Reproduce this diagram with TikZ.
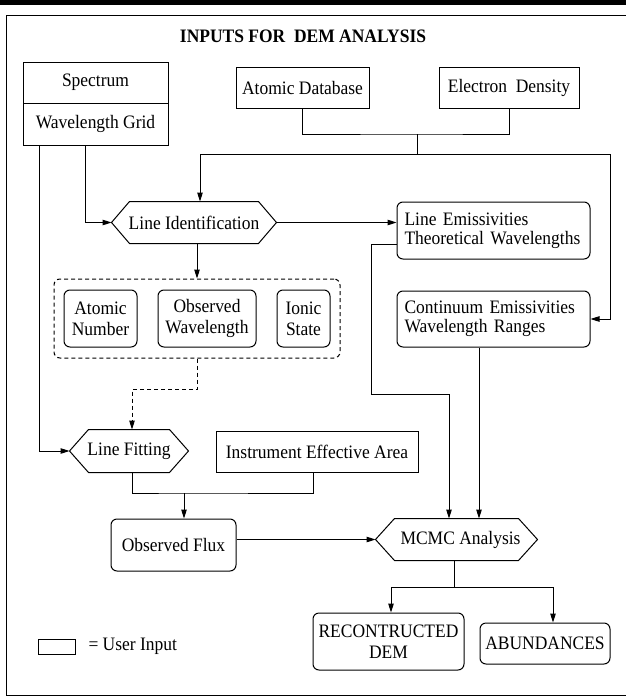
\documentclass[tikz,border=0pt]{standalone}
\usepackage{fontspec}
\setmainfont{Liberation Serif}[FakeStretch=0.92]
\usetikzlibrary{arrows.meta}
\newcommand\hexa[2]{\draw ([xshift=#2]#1.north west) -- ([xshift=-#2]#1.north east) -- (#1.east) -- ([xshift=-#2]#1.south east) -- ([xshift=#2]#1.south west) -- (#1.west) -- cycle;}
\begin{document}
\begin{tikzpicture}[x=1pt,y=-1pt,line width=1pt,
  every node/.style={font=\fontsize{19}{21}\selectfont, inner sep=0pt},
  sz/.style n args={2}{minimum width=#1pt,minimum height=#2pt},
  ubox/.style={draw},
  rbox/.style={draw, rounded corners=6pt},
  lbox/.style={draw, rounded corners=6pt, text width=178pt, align=left, font=\fontsize{19}{19}\selectfont},
  arr/.style={-{Triangle[length=9pt,width=5.5pt]}},
  dasharr/.style={arr, dash pattern=on 4pt off 3pt},
  grpbox/.style={draw, rounded corners=6pt, dash pattern=on 4pt off 3pt}
]
\useasboundingbox (0,0) rectangle (626,696);
% top rule and frame
\fill (0,0) rectangle (626,4.5);
\draw (632,15) -- (6,15) -- (6,695) -- (632,695);

\node[font=\bfseries\fontsize{19}{21}\selectfont] (title) at (303,36) {INPUTS FOR\ \ DEM ANALYSIS};

% inputs
\node[ubox, sz={145}{41}] (spec) at (95.5,82.5) {Spectrum};
\node[ubox, sz={145}{42}] (wgrid) at (95.5,124) {Wavelength Grid};
\node[ubox, sz={133}{41}] (atomdb) at (302.5,87.5) {Atomic Database};
\node[ubox, sz={140}{41}] (edens) at (509,87.5) {Electron\ \ Density};

% line identification
\node[sz={164}{41}] (lid) at (194,222.5) {Line Identification};
\hexa{lid}{18pt}

\node[lbox, sz={193}{57}] (lineem) at (493.5,230.5) {Line Emissivities\\Theoretical Wavelengths};
\node[lbox, sz={193}{56}] (contem) at (493.5,319) {Continuum Emissivities\\Wavelength Ranges};

% group
\node[grpbox, sz={286}{79}] (grp) at (197,318.5) {};
\node[rbox, sz={73}{57}, align=center] (atnum) at (100.5,318.5) {Atomic\\Number};
\node[rbox, sz={98}{57}, align=center] (obswl) at (207,318.5) {Observed\\Wavelength};
\node[rbox, sz={53}{57}, align=center] (ionic) at (303.5,318.5) {Ionic\\State};

% line fitting
\node[sz={118}{42}] (lf) at (129,451) {Line Fitting};
\hexa{lf}{19pt}
\node[ubox, sz={202}{41}] (instr) at (317,451.5) {Instrument Effective Area};

\node[rbox, sz={125}{52}] (obsf) at (173.5,545) {Observed Flux};

\node[sz={161}{41}] (mcmc) at (456.5,539.5) {\hspace*{8pt}MCMC Analysis};
\hexa{mcmc}{19pt}

\node[rbox, sz={151}{57}, align=center] (recon) at (388.5,641.5) {RECONTRUCTED\\DEM};
\node[rbox, sz={130}{41}] (abund) at (545,643.5) {ABUNDANCES};

% legend
\node[ubox, sz={37}{15}] (leg) at (56.5,646.5) {};
\node[anchor=west] (legt) at (88,646) {= User Input};

% connectors
\coordinate (j1) at (417,134);
\coordinate (j2) at (417,154);
\coordinate (r1) at (610,154);
\draw (atomdb.south) |- (j1) -| (edens.south);
\draw (j1) -- (j2);
\draw[arr] (j2) -| ([xshift=6pt]lid.north);
\draw[arr] (j2) -- (r1) |- (contem.east);

\draw[arr] ([xshift=-10.5pt]wgrid.south) |- (lid.west);
\draw[arr] ([xshift=-56.5pt]wgrid.south) |- (lf.west);

\draw[arr] (lid.east) -- (lid.east -| lineem.west);
\draw[arr] (grp.north |- lid.south) -- (grp.north);

\coordinate (c1) at (371,394);
\draw[arr] ([yshift=-13.5pt]lineem.west) -| (c1) -| ([xshift=-7.5pt]mcmc.north);
\draw[arr] ([xshift=-14.5pt]contem.south) -- ([xshift=-14.5pt]contem.south |- mcmc.north);

\draw[dasharr] (grp.south) -- ++(0,31) -| ([xshift=3pt]lf.north);

\coordinate (j3) at (184,493);
\draw ([xshift=3pt]lf.south) |- (j3) -| ([xshift=-4pt]instr.south);
\draw[arr] (j3) -- (j3 |- obsf.north);

\draw[arr] (obsf.east |- mcmc.west) -- (mcmc.west);

\coordinate (j4) at (454,587);
\draw ([xshift=-2.5pt]mcmc.south) -- (j4);
\draw[arr] (j4) -| ([xshift=2.5pt]recon.north);
\draw[arr] (j4) -| ([xshift=8pt]abund.north);
\end{tikzpicture}
\end{document}
